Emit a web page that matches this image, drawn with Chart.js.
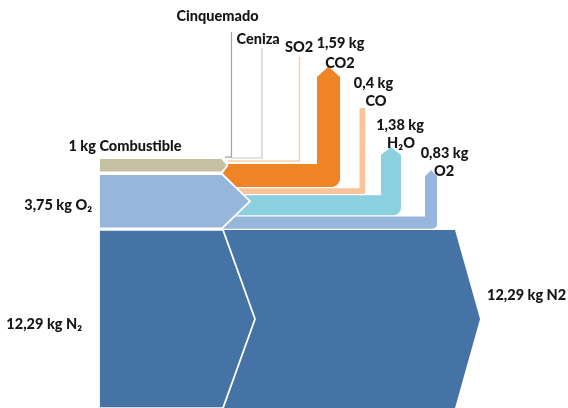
<!DOCTYPE html>
<html>
<head>
<meta charset="utf-8">
<script src="https://cdn.jsdelivr.net/npm/chart.js@4.4.1/dist/chart.umd.min.js"></script>
<style>
  html, body { margin: 0; padding: 0; background: #ffffff; }
  #wrap { width: 568px; height: 408px; position: relative; }
</style>
</head>
<body>
<div id="wrap"><canvas id="flow" width="568" height="408"></canvas></div>
<script>
// Mass balance for burning 1 kg of fuel with air (values in kg)
const inputNames = ['Combustible', 'O₂', 'N₂'];
const inputKg = [1, 3.75, 12.29];
const outputNames = ['CO2', 'CO', 'H₂O', 'O2'];
const outputKg = [1.59, 0.4, 1.38, 0.83];
const nitrogenOutName = 'N2';
const nitrogenOutKg = 12.29;
const traceNames = ['Cinquemado', 'Ceniza', 'SO2'];

// ---- layout (canvas units) ----
const K = 14.5;                 // band thickness per kg
const X_IN = 99;                // left edge of the incoming streams
const IN_END = [222, 222, 223]; // where each incoming stream ends
const IN_TIP = [5.5, 28, 32];   // arrow tip length of each incoming stream
const Y_IN_TOP = 158, GAP_IN = 1.5;
const X_OUT = 223;              // left edge of the outgoing streams
const Y_OUT_TOP = 164, GAP_OUT = 1.25;
const COL_X = [317, 359.5, 381, 425];   // left edge of each rising column
const COL_TOP = [66.5, 108, 147, 170];  // top of each rising column
const COL_HEAD = [10.5, 0, 8, 6.5];     // height of the arrow head
const COL_R = [9, 2.5, 8, 5];           // radius of the outer corner
const N2_END = 455, N2_TIP = 25;

const IN_COLORS = ['#c5c1a2', '#96b6dc', '#4573a6'];
const OUT_COLORS = ['#ef8427', '#f9c49a', '#8ccfdf', '#96b6dc'];
const N2_COLOR = '#4573a6';
const TRACE_COLORS = ['#a3a3a3', '#c9c9c9', '#f9cfac'];
const TEXT = '#161616';
const FONT = '900 14.5px Lato';

const fmt = v => String(v).replace('.', ',') + ' kg';

// stack the incoming bands
let yCursor = Y_IN_TOP;
const inBands = inputKg.map(kg => {
  const b = { top: yCursor, bot: yCursor + kg * K };
  yCursor = b.bot + GAP_IN;
  return b;
});
// stack the outgoing bands
let yo = Y_OUT_TOP;
const outBands = outputKg.map(kg => {
  const b = { top: yo, bot: yo + kg * K };
  yo = b.bot + GAP_OUT;
  return b;
});

const P = (x, y) => ({ x, y });

function polygon(label, pts, color, order, stroke) {
  return {
    label,
    data: pts.concat([pts[0]]),
    showLine: true,
    fill: 'shape',
    backgroundColor: color,
    borderColor: stroke ? '#ffffff' : 'rgba(0,0,0,0)',
    borderWidth: stroke ? 1.8 : 0.01,
    borderJoinStyle: 'miter',
    pointRadius: 0,
    tension: 0,
    order
  };
}

function polyline(label, pts, color, width, order) {
  return {
    label, data: pts, showLine: true, fill: false,
    borderColor: color, borderWidth: width, pointRadius: 0, tension: 0, order
  };
}

const datasets = [];

// outgoing streams that turn upwards
outputKg.forEach((kg, i) => {
  const { top, bot } = outBands[i];
  const xl = COL_X[i], xr = xl + kg * K, r = COL_R[i];
  const pts = [P(X_OUT, top), P(xl, top), P(xl, COL_TOP[i] + COL_HEAD[i])];
  if (COL_HEAD[i] > 0) pts.push(P((xl + xr) / 2, COL_TOP[i]));
  pts.push(P(xr, COL_TOP[i] + COL_HEAD[i]));
  for (let s = 0; s <= 8; s++) {
    const a = (Math.PI / 2) * s / 8;
    pts.push(P(xr - r + r * Math.cos(a), bot - r + r * Math.sin(a)));
  }
  pts.push(P(X_OUT, bot));
  datasets.push(polygon(outputNames[i], pts, OUT_COLORS[i], 10, false));
});

// outgoing nitrogen
{
  const { top } = inBands[2];
  const b = top + nitrogenOutKg * K;
  const mid = (top + b) / 2;
  datasets.push(polygon(nitrogenOutName, [P(X_OUT, top), P(N2_END, top), P(N2_END + N2_TIP, mid), P(N2_END, b), P(X_OUT, b)], N2_COLOR, 10, false));
}

// trace streams drawn as hairlines
const so2Y = Y_OUT_TOP - 3;
datasets.push(polyline(traceNames[0], [P(225, Y_IN_TOP - 0.8), P(231.5, Y_IN_TOP - 0.8), P(231.5, 32)], TRACE_COLORS[0], 1.2, 5));
datasets.push(polyline(traceNames[1], [P(231.5, Y_IN_TOP), P(262, Y_IN_TOP), P(262, 48)], TRACE_COLORS[1], 1.2, 5));
datasets.push(polyline(traceNames[2], [P(228, so2Y), P(299.5, so2Y), P(299.5, 57)], TRACE_COLORS[2], 1.5, 5));

// incoming streams, drawn last so their arrow tips cut into the outgoing bands
inputKg.forEach((kg, i) => {
  const { top, bot } = inBands[i];
  const mid = (top + bot) / 2;
  const pts = [P(X_IN, top), P(IN_END[i], top), P(IN_END[i] + IN_TIP[i], mid), P(IN_END[i], bot), P(X_IN, bot)];
  datasets.push(polygon(inputNames[i], pts, IN_COLORS[i], 1 + i, true));
});

// text placed on the same scales as the streams
const labels = [
  { text: traceNames[0], x: 217.5, y: 16, align: 'center' },
  { text: traceNames[1], x: 236.5, y: 39.5, align: 'left' },
  { text: traceNames[2], x: 285, y: 47.5, align: 'left' },
  { text: fmt(outputKg[0]), x: 340.5, y: 43, align: 'center' },
  { text: outputNames[0], x: 340, y: 63, align: 'center' },
  { text: fmt(outputKg[1]), x: 373.5, y: 83, align: 'center' },
  { text: outputNames[1], x: 376, y: 101.5, align: 'center' },
  { text: fmt(outputKg[2]), x: 400, y: 125, align: 'center' },
  { text: outputNames[2], x: 401, y: 143, align: 'center' },
  { text: fmt(outputKg[3]), x: 444.5, y: 153, align: 'center' },
  { text: outputNames[3], x: 444, y: 171.5, align: 'center' },
  { text: fmt(inputKg[0]) + ' ' + inputNames[0], x: 125, y: 146.5, align: 'center' },
  { text: fmt(inputKg[1]) + ' ' + inputNames[1], x: 92, y: 205, align: 'right' },
  { text: fmt(inputKg[2]) + ' ' + inputNames[2], x: 82, y: 324, align: 'right' },
  { text: fmt(nitrogenOutKg) + ' ' + nitrogenOutName, x: 487, y: 295, align: 'left' }
];

const flowLabels = {
  id: 'flowLabels',
  afterDatasetsDraw(chart) {
    const { ctx, scales: { x, y } } = chart;
    ctx.save();
    ctx.font = FONT;
    ctx.fillStyle = TEXT;
    ctx.textBaseline = 'middle';
    labels.forEach(l => {
      ctx.textAlign = l.align;
      ctx.fillText(l.text, x.getPixelForValue(l.x), y.getPixelForValue(l.y));
    });
    ctx.restore();
  }
};

new Chart(document.getElementById('flow'), {
  type: 'scatter',
  data: { datasets },
  options: {
    responsive: false,
    animation: false,
    devicePixelRatio: 1,
    layout: { padding: 0 },
    events: [],
    plugins: { legend: { display: false }, tooltip: { enabled: false } },
    scales: {
      x: { type: 'linear', min: 0, max: 568, display: false },
      y: { type: 'linear', min: 0, max: 408, reverse: true, display: false }
    }
  },
  plugins: [flowLabels]
});
</script>
</body>
</html>
